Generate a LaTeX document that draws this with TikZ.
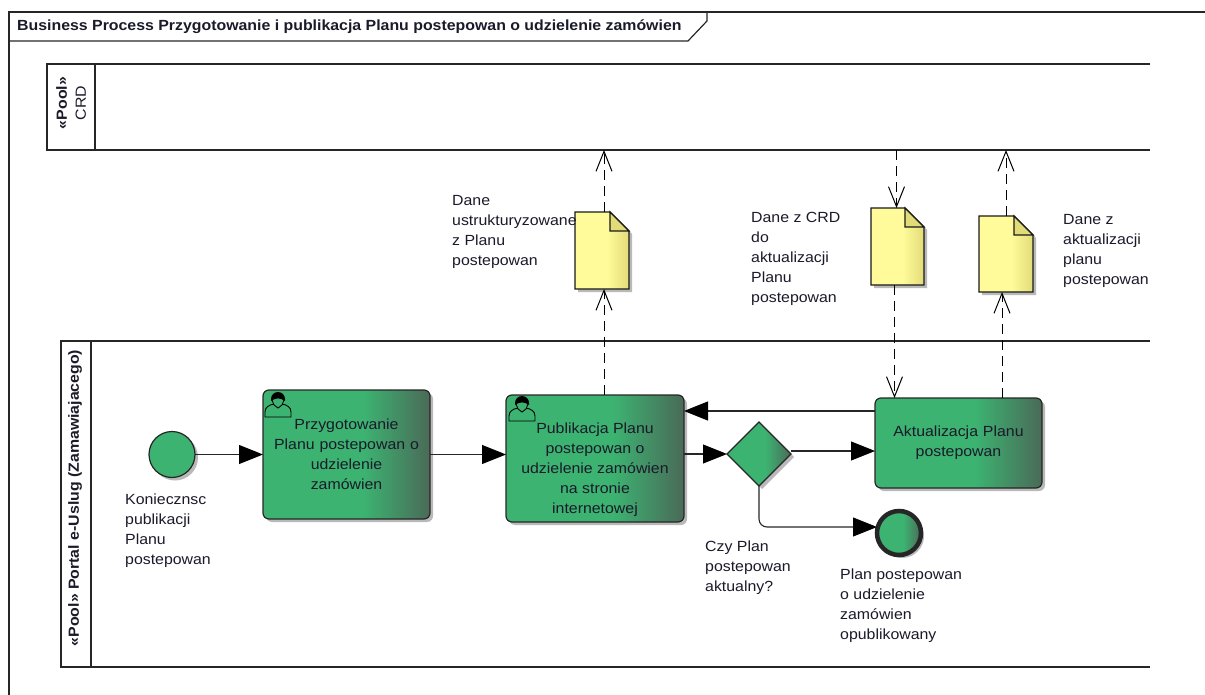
\documentclass[tikz,border=0pt]{standalone}
\usepackage{fontspec}
\setmainfont[FakeStretch=1.08]{Liberation Sans}
\usetikzlibrary{shapes.geometric,shadows,arrows.meta,calc}
\definecolor{gr}{HTML}{3CB371}
\definecolor{grd}{HTML}{4A6A58}
\definecolor{ye}{HTML}{FFFB9A}
\definecolor{yed}{HTML}{E2DC78}
\definecolor{tx}{HTML}{1A1A2A}
\pgfdeclarehorizontalshading{grsh}{100bp}{color(0bp)=(gr); color(55bp)=(gr); color(75bp)=(grd); color(100bp)=(grd)}
\pgfdeclarehorizontalshading{yesh}{100bp}{color(0bp)=(ye); color(55bp)=(ye); color(75bp)=(yed); color(100bp)=(yed)}
\tikzset{
  base/.style={font=\fontsize{14.7}{20}\selectfont,text=tx},
  lab/.style={base,align=left,anchor=north west,inner sep=0pt},
  shad/.style={drop shadow={shadow xshift=3pt,shadow yshift=-3pt,fill=black!55,opacity=.5}},
  task/.style={base,draw=black!85,line width=1.2pt,rounded corners=6pt,shading=grsh,shad,align=center,inner sep=0pt,outer sep=0pt,rectangle},
  evt/.style={circle,draw=black!85,shad,inner sep=0pt,outer sep=0pt,minimum size=46pt,line width=1.2pt},
  gate/.style={diamond,draw=black!85,shading=grsh,shad,inner sep=0pt,outer sep=0pt,minimum width=64pt,minimum height=64pt,line width=1.2pt},
  poolbox/.style={draw=black!85,line width=1.2pt,inner sep=0pt,outer sep=0pt},
  seq/.style={draw=black!85,line width=1.1pt,-{Triangle[length=24pt,width=19pt,black]}},
  msg/.style={draw=black,line width=1pt,dash pattern=on 10pt off 6pt,-{Straight Barb[length=20pt,width=16pt,line width=1pt,black]}},
}
\newcommand{\usericon}[2]{%
  \begin{scope}[shift={(#1,#2)}]
    \draw[black,line width=.9pt] (9,13) .. controls (4,14) and (0,16) .. (0,21) -- (0,26) -- (26,26) -- (26,21) .. controls (26,16) and (22,14) .. (17,13);
    \draw[black,line width=.9pt] (7,9) -- (9,14) -- (13,17) -- (17,14) -- (19,9);
    \fill[black] (6,8) arc[start angle=180,end angle=360,radius=7] -- (20,10) .. controls (15,6.5) and (11,6.5) .. (6,10) -- cycle;
  \end{scope}}
\newcommand{\docshape}[5]{% name,x,y,w,h
  \coordinate (#1-nw) at (#2,#3);
  \path[shad,shading=yesh,draw=black!90,line width=1.2pt] (#2,#3) -- ++(#4-19,0) -- ++(19,19) -- ++(0,#5-19) -- ++(-#4,0) -- cycle;
  \path[fill=yed,draw=black!90,line width=1.2pt] (#2+#4-19,#3) -- ++(19,19) -- ++(-19,0) -- cycle;
  \node[inner sep=0pt,outer sep=0pt,minimum width=#4 pt,minimum height=#5 pt] (#1) at (#2+#4/2,#3+#5/2) {};}
\begin{document}
\begin{tikzpicture}[x=1pt,y=-1pt]
\useasboundingbox (0,0) rectangle (1205,695);
% frame
\draw[black!85,line width=1.2pt] (1205,12) -- (9,12) -- (9,695);
\node[base,font=\fontsize{14.7}{16}\bfseries\selectfont,anchor=west,inner sep=0pt] (title) at (17,27) {Business Process Przygotowanie i publikacja Planu postepowan o udzielenie zamówien};
\draw[black!85,line width=1.2pt] (9,41) -- (688,41) -- (707,21) -- (707,12);
% pools
\draw[poolbox] (1150,64) -- (47,64) -- (47,150) -- (1150,150);
\draw[poolbox] (95,64) -- (95,150);
\draw[poolbox] (1150,341) -- (61,341) -- (61,667) -- (1150,667);
\draw[poolbox] (91,341) -- (91,667);
\coordinate (crdbot) at (700,150);
\node[base,rotate=90,align=center,font=\fontsize{14.7}{19}\selectfont,inner sep=0pt] (poolcrd) at (71,103) {\textbf{«Pool»}\\CRD};
\node[base,rotate=90,font=\fontsize{14.7}{16}\bfseries\selectfont,inner sep=0pt] (poolportal) at (75,498) {«Pool» Portal e-Uslug (Zamawiajacego)};
% events and tasks
\node[evt,fill=gr] (start) at (172,454.5) {};
\node[task,minimum width=167pt,minimum height=129pt,text width=160pt] (t1) at (346.5,454.5) {Przygotowanie\\Planu postepowan o\\udzielenie\\zamówien};
\usericon{265}{391}
\node[task,minimum width=178pt,minimum height=127pt] (t2) at (595,458.5) {};
\node[base,align=center,inner sep=0pt] (t2text) at (595,470) {Publikacja Planu\\postepowan o\\udzielenie zamówien\\na stronie\\internetowej};
\usericon{509}{395}
\node[gate] (gw) at (759,454) {};
\node[task,minimum width=167pt,minimum height=90pt,text width=160pt] (t3) at (958.5,443) {Aktualizacja Planu\\postepowan};
\node[evt,shading=grsh,line width=4.5pt,minimum size=44pt] (end) at (899,533) {};
% documents
\docshape{d1}{575}{212}{54}{77}
\docshape{d2}{871}{208}{53}{77}
\docshape{d3}{979}{216}{54}{76}
% labels
\node[lab] (l1) at (125,494) {Konieczn\-sc\\publikacji\\Planu\\postepowan};
\node[lab] (l2) at (452,195) {Dane\\ustrukturyzowane\\z Planu\\postepowan};
\node[lab] (l3) at (751,212) {Dane z CRD\\do\\aktualizacji\\Planu\\postepowan};
\node[lab] (l4) at (1063,214) {Dane z\\aktualizacji\\planu\\postepowan};
\node[lab] (l5) at (705,541) {Czy Plan\\postepowan\\aktualny?};
\node[lab] (l6) at (840,569) {Plan postepowan\\o udzielenie\\zamówien\\opublikowany};
% sequence flows
\draw[seq] (start.east) -- (t1.west);
\draw[seq] (t1.east) -- (t2.west |- t1.east);
\draw[seq] (t2.east |- gw.west) -- (gw.west);
\draw[seq] ([yshift=3pt]gw.east) -- ([yshift=3pt]gw.east -| t3.west);
\draw[seq] ([yshift=32pt]t3.west) -- ([yshift=32pt]t3.west -| t2.east);
\draw[seq,rounded corners=8pt] (gw.south) |- ([yshift=6pt]end.west);
% message flows
\draw[msg] ([xshift=2pt]d1.south |- t2.north) -- ([xshift=2pt]d1.south);
\draw[msg] ([xshift=2pt]d1.north) -- ([xshift=2pt]d1.north |- crdbot);
\draw[msg] ([xshift=-1pt]d2.north |- crdbot) -- ([xshift=-1pt]d2.north);
\draw[msg] ([xshift=-3pt]d2.south) -- ([xshift=-3pt]d2.south |- t3.north);
\draw[msg] ([xshift=-4pt]d3.south |- t3.north) -- ([xshift=-4pt]d3.south);
\draw[msg] (d3.north) -- (d3.north |- crdbot);
\end{tikzpicture}
\end{document}
